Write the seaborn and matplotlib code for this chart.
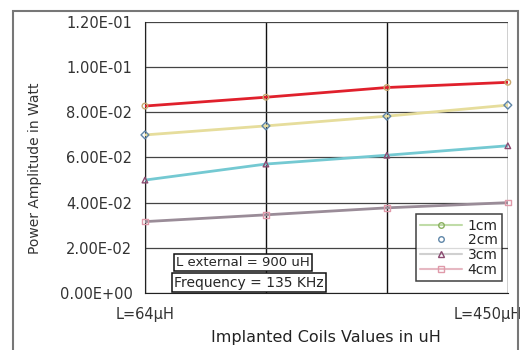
import numpy as np
import pandas as pd
import seaborn as sns
import matplotlib.pyplot as plt
from matplotlib.lines import Line2D
from matplotlib.patches import Rectangle
from matplotlib.transforms import ScaledTranslation

# data
coil_positions = [0, 1, 2, 3]
tick_labels = ["L=64\u03bcH", "", "", "L=450\u03bcH"]
series_names = ["1cm", "2cm", "3cm", "4cm"]
power_1cm = [0.0828, 0.0867, 0.0910, 0.0933]
power_2cm = [0.0700, 0.0740, 0.0783, 0.0832]
power_3cm = [0.0500, 0.0571, 0.0610, 0.0652]
power_4cm = [0.0316, 0.0346, 0.0377, 0.0400]

line_colors = ["#e0202c", "#e6dd9c", "#74c9d2", "#9a8c98"]
marker_colors = ["#c8a870", "#5f86a8", "#8a4a70", "#e09aaa"]
marker_styles = ["o", "D", "^", "s"]

df = pd.DataFrame({
    "Coil": coil_positions * 4,
    "Power": power_1cm + power_2cm + power_3cm + power_4cm,
    "Distance": np.repeat(series_names, 4),
})

sns.set_style("white")
plt.rcParams["font.family"] = ["DejaVu Sans"]

fig = plt.figure(figsize=(5.29, 3.5), dpi=100)
ax = fig.add_axes([0.274, 0.163, 0.686, 0.774])

sns.lineplot(data=df, x="Coil", y="Power", hue="Distance",
             palette=line_colors, linewidth=2, legend=False, ax=ax, zorder=3)
for name, col, mk in zip(series_names, marker_colors, marker_styles):
    sub = df[df["Distance"] == name]
    sns.scatterplot(data=sub, x="Coil", y="Power", marker=mk, s=16,
                    facecolors="none", edgecolor=col, linewidth=1.0,
                    legend=False, ax=ax, zorder=5, clip_on=False)

ax.set_xlim(0, 3)
ax.set_ylim(0, 0.12)
yticks = np.arange(0, 0.1201, 0.02)
ax.set_yticks(yticks)
ax.set_yticklabels([f"{v:.2E}" for v in yticks], fontsize=10.5, color="#333333")
ax.set_xticks(coil_positions)
ax.set_xticklabels(tick_labels, fontsize=10.5, color="#333333")
ax.tick_params(axis="both", direction="out", length=4, color="#222222")
ax.tick_params(axis="y", pad=5)
ax.tick_params(axis="x", pad=6)
last = ax.get_xticklabels()[3]
last.set_transform(last.get_transform() + ScaledTranslation(-0.2, 0, fig.dpi_scale_trans))
ax.xaxis.grid(True, color="#111111", linewidth=1.0)
ax.yaxis.grid(True, color="#444444", linewidth=0.9)
for s in ["top", "right"]:
    ax.spines[s].set_visible(False)
for s in ["left", "bottom"]:
    ax.spines[s].set_color("#222222")

ax.set_xlabel("Implanted Coils Values in uH", fontsize=11.5, color="#222222", labelpad=6)
ax.set_ylabel("Power Amplitude in Watt", fontsize=10, color="#333333")
ax.yaxis.set_label_coords(-0.285, 0.46)

box = dict(boxstyle="square,pad=0.15", facecolor="white", edgecolor="#111111", linewidth=1.1)
ax.text(0.255, 0.0133, "L external = 900 uH", fontsize=9.5, bbox=box, va="center", zorder=6)
ax.text(0.24, 0.0046, "Frequency = 135 KHz", fontsize=10, bbox=box, va="center", zorder=6)

handles = [
    Line2D([], [], color="#c0dca8", marker="o", markerfacecolor="none",
           markeredgecolor="#8ab060", markersize=4),
    Line2D([], [], color="none", marker="o", markerfacecolor="none",
           markeredgecolor="#5f86a8", markersize=4),
    Line2D([], [], color="#d0d0d0", marker="^", markerfacecolor="none",
           markeredgecolor="#8a4a70", markersize=4),
    Line2D([], [], color="#e6b8c2", marker="s", markerfacecolor="none",
           markeredgecolor="#e09aaa", markersize=4),
]
leg = ax.legend(handles, series_names, loc="lower right", bbox_to_anchor=(0.983, 0.045),
                fontsize=10, frameon=True, fancybox=False, handlelength=3.0,
                labelspacing=0.05, borderpad=0.3, handletextpad=0.4, borderaxespad=0)
leg.get_frame().set_edgecolor("#111111")
leg.get_frame().set_linewidth(1.1)
leg.set_zorder(7)

fig.patches.append(Rectangle((0.025, -0.02), 0.955, 0.99, transform=fig.transFigure,
                             fill=False, edgecolor="#777777", linewidth=1.5))

fig.savefig("out.png", dpi=100)
